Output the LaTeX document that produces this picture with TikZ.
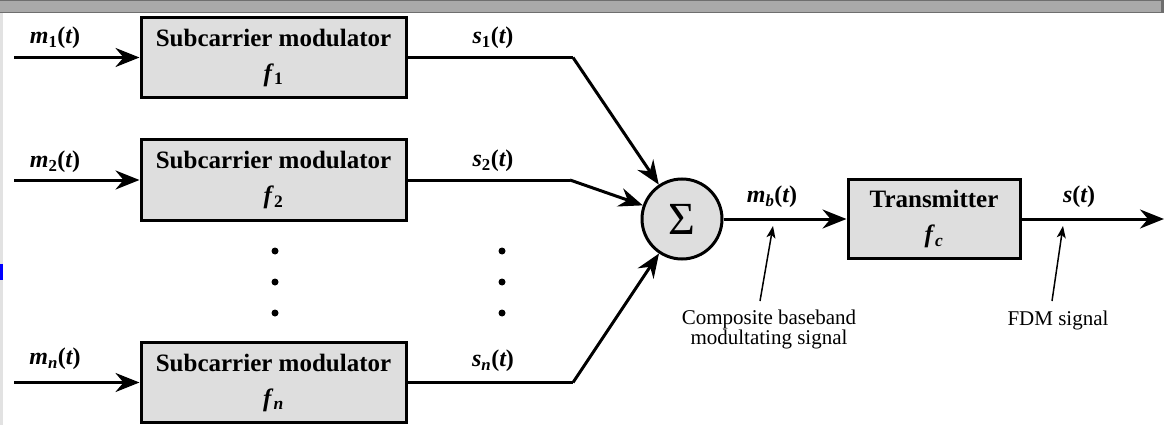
\documentclass[tikz,border=0pt]{standalone}
\usepackage{fontspec}
\setmainfont{Liberation Serif}
\usetikzlibrary{arrows.meta}
\definecolor{boxgray}{HTML}{DEDEDE}
\definecolor{bargray}{HTML}{A9A9A9}
\definecolor{bardark}{HTML}{6E6E6E}
\definecolor{leftgray}{HTML}{E2E2E2}
\definecolor{markblue}{HTML}{0000FF}
\newcommand{\sgl}[2]{{\bfseries\itshape #1}\textsubscript{\bfseries #2}{\bfseries(}{\bfseries\itshape t}{\bfseries)}}
\begin{document}
\begin{tikzpicture}[x=1pt,y=-1pt,
  modbox/.style={draw, line width=3pt, fill=boxgray, minimum width=265pt, minimum height=80pt,
    align=center, inner sep=0pt, font=\fontsize{25}{35}\selectfont\bfseries},
  txbox/.style={modbox, minimum width=172pt, minimum height=79pt},
  sumnode/.style={draw, circle, line width=3pt, fill=boxgray, minimum size=80pt, inner sep=0pt,
    font=\fontsize{46}{46}\selectfont},
  main/.style={line width=3pt, -{Stealth[length=24pt, width=19pt, inset=8pt]}},
  plain/.style={line width=3pt},
  ann/.style={line width=1.5pt, -{Stealth[length=12pt, width=9pt, inset=3pt]}},
  sglab/.style={font=\fontsize{24}{24}\selectfont, inner sep=0pt},
  anntext/.style={font=\fontsize{21}{20}\selectfont, align=center, inner sep=0pt},
  dotpt/.style={circle, fill=black, minimum size=7pt, inner sep=0pt}
]
\useasboundingbox (0,0) rectangle (1164,425);
% window frame remnants
\fill[bargray] (0,0) rectangle (1164,13);
\fill[bardark] (0,0) rectangle (1164,1.5);
\fill[bardark] (0,12) rectangle (1164,13.5);
\fill[bardark] (1161,0) rectangle (1164,13);
\fill[leftgray] (0,13.5) rectangle (3,425);
\fill[markblue] (0,264) rectangle (3,280);

% subcarrier modulators
\node[modbox] (mod1) at (273.5,57.5) {Subcarrier modulator\\\textit{f}\textsubscript{1}};
\node[modbox] (mod2) at (273.5,180) {Subcarrier modulator\\\textit{f}\textsubscript{2}};
\node[modbox] (modn) at (273.5,382.5) {Subcarrier modulator\\\textit{f}\textsubscript{\textit{n}}};

% summer and transmitter
\node[sumnode] (sum) at (682,219) {\raisebox{-1pt}{Σ}};
\node[txbox] (tx) at (934,219) {Transmitter\\\textit{f}\textsubscript{\textit{c}}};

% input coordinates
\coordinate (in1) at (14,57.5);
\coordinate (in2) at (14,180);
\coordinate (inn) at (14,382.5);
\coordinate (b1) at (573,57.5);
\coordinate (b2) at (570,180);
\coordinate (bn) at (573,382.5);
\coordinate (out) at (1164,219);

% input labels
\node[sglab] (lm1) at (55,38) {\sgl{m}{1}};
\node[sglab] (lm2) at (55,162) {\sgl{m}{2}};
\node[sglab] (lmn) at (55,359) {\sgl{m}{\itshape n}};
% output labels
\node[sglab] (ls1) at (493,38) {\sgl{s}{1}};
\node[sglab] (ls2) at (493,161) {\sgl{s}{2}};
\node[sglab] (lsn) at (493,361) {\sgl{s}{\itshape n}};
\node[sglab] (lmb) at (772,197) {\sgl{m}{\itshape b}};
\node[sglab] (lst) at (1079,197) {{\bfseries\itshape s}{\bfseries(}{\bfseries\itshape t}{\bfseries)}};

% connectors
\draw[main] (in1) -- (mod1);
\draw[main] (in2) -- (mod2);
\draw[main] (inn) -- (modn);
\draw[plain] (mod1.east) -- (b1);
\draw[main] (b1) -- (sum);
\draw[plain] (mod2.east) -- (b2);
\draw[main] (b2) -- (sum);
\draw[plain] (modn.east) -- (bn);
\draw[main] (bn) -- (sum);
\draw[main] (sum) -- (tx);
\draw[main] (tx) -- (out);

% dots
\node[dotpt] (d1) at (275,251) {};
\node[dotpt] (d2) at (275,282) {};
\node[dotpt] (d3) at (275,313) {};
\node[dotpt] (d4) at (502,251) {};
\node[dotpt] (d5) at (502,282) {};
\node[dotpt] (d6) at (502,313) {};

% annotations
\node[anntext] (comp) at (769,329) {Composite baseband\\modultating signal};
\node[anntext] (fdm) at (1058,320) {FDM signal};
\coordinate (ctail) at (760,301);
\coordinate (ctip) at (773,226);
\coordinate (ftail) at (1052,301);
\coordinate (ftip) at (1063,226);
\draw[ann] (ctail) -- (ctip);
\draw[ann] (ftail) -- (ftip);
\end{tikzpicture}
\end{document}
